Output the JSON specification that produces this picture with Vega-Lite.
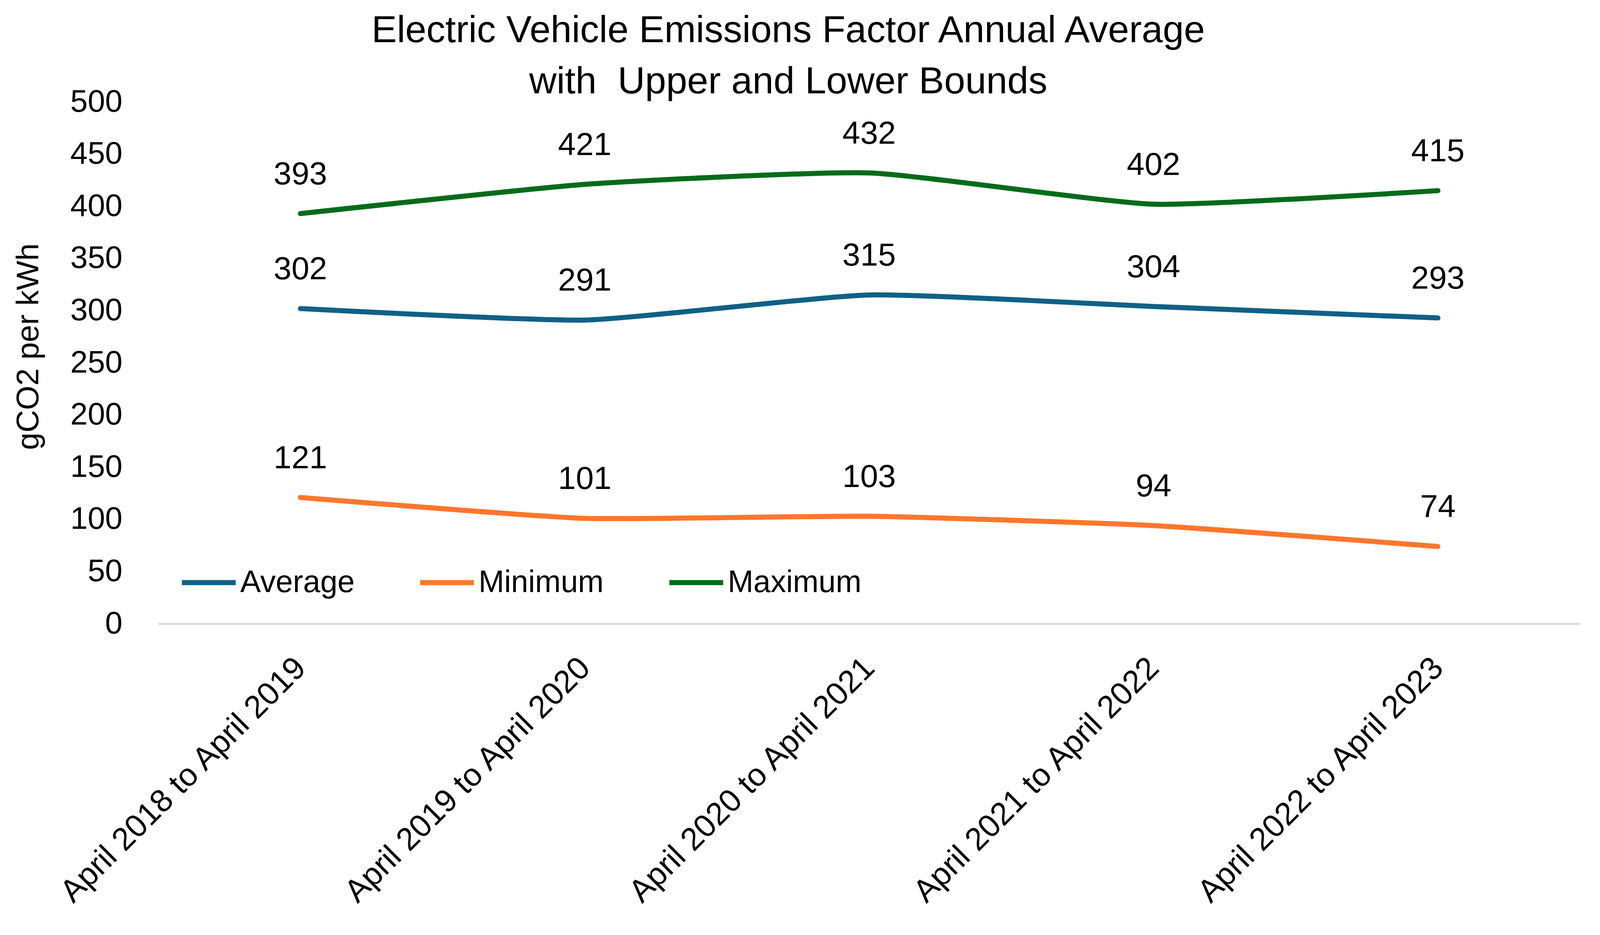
{
  "$schema": "https://vega.github.io/schema/vega-lite/v6.json",
  "description": "Electric Vehicle Emissions Factor Annual Average with Upper and Lower Bounds",
  "autosize": "none",
  "width": 3640,
  "height": 1336,
  "padding": {"left": 405, "top": 261, "right": 118, "bottom": 797},
  "background": "white",
  "title": {
    "text": ["Electric Vehicle Emissions Factor Annual Average", "with\u00a0 Upper and Lower Bounds"],
    "font": "Liberation Sans",
    "fontSize": 97,
    "fontWeight": "normal",
    "color": "#000000",
    "anchor": "middle",
    "dx": -207,
    "baseline": "bottom",
    "lineHeight": 131,
    "offset": -135
  },
  "config": {
    "view": {"stroke": null},
    "font": "Liberation Sans"
  },
  "data": {
    "values": [
      {"period": "April 2018 to April 2019", "series": "Average", "value": 302},
      {"period": "April 2019 to April 2020", "series": "Average", "value": 291},
      {"period": "April 2020 to April 2021", "series": "Average", "value": 315},
      {"period": "April 2021 to April 2022", "series": "Average", "value": 304},
      {"period": "April 2022 to April 2023", "series": "Average", "value": 293},
      {"period": "April 2018 to April 2019", "series": "Minimum", "value": 121},
      {"period": "April 2019 to April 2020", "series": "Minimum", "value": 101},
      {"period": "April 2020 to April 2021", "series": "Minimum", "value": 103},
      {"period": "April 2021 to April 2022", "series": "Minimum", "value": 94},
      {"period": "April 2022 to April 2023", "series": "Minimum", "value": 74},
      {"period": "April 2018 to April 2019", "series": "Maximum", "value": 393},
      {"period": "April 2019 to April 2020", "series": "Maximum", "value": 421},
      {"period": "April 2020 to April 2021", "series": "Maximum", "value": 432},
      {"period": "April 2021 to April 2022", "series": "Maximum", "value": 402},
      {"period": "April 2022 to April 2023", "series": "Maximum", "value": 415}
    ]
  },
  "encoding": {
    "x": {
      "field": "period",
      "type": "nominal",
      "sort": null,
      "scale": {"type": "point", "padding": 0.5},
      "axis": {
        "title": null,
        "labelAngle": -45,
        "labelAlign": "right",
        "labelBaseline": "middle",
        "labelFont": "Liberation Sans",
        "labelFontSize": 82,
        "labelColor": "#000000",
        "labelPadding": 100,
        "labelLimit": 2000,
        "ticks": false,
        "grid": false,
        "domainColor": "#d9d9d9",
        "domainWidth": 5
      }
    },
    "y": {
      "field": "value",
      "type": "quantitative",
      "scale": {"domain": [0, 500], "nice": false},
      "axis": {
        "title": "gCO2 per kWh",
        "titleFont": "Liberation Sans",
        "titleFontSize": 80,
        "titleFontWeight": "normal",
        "titleColor": "#000000",
        "titleX": -332,
        "titleY": 626,
        "titleBaseline": "middle",
        "titleAngle": -90,
        "values": [0, 50, 100, 150, 200, 250, 300, 350, 400, 450, 500],
        "labelFont": "Liberation Sans",
        "labelFontSize": 80,
        "labelColor": "#000000",
        "labelPadding": 92,
        "ticks": false,
        "domain": false,
        "grid": false
      }
    }
  },
  "layer": [
    {
      "mark": {"type": "line", "strokeWidth": 13, "strokeCap": "round", "strokeJoin": "round", "interpolate": "cardinal", "tension": 0.5},
      "encoding": {
        "color": {
          "field": "series",
          "type": "nominal",
          "scale": {
            "domain": ["Average", "Minimum", "Maximum"],
            "range": ["#0F6186", "#FF762D", "#036B1A"]
          },
          "legend": {
            "title": null,
            "orient": "none",
            "direction": "horizontal",
            "legendX": 54,
            "legendY": 1155,
            "symbolType": "stroke",
            "symbolSize": 19000,
            "symbolStrokeWidth": 13,
            "labelFont": "Liberation Sans",
            "labelFontSize": 79,
            "labelColor": "#000000",
            "labelOffset": 5,
            "columnPadding": 141,
            "labelLimit": 1000
          }
        }
      }
    },
    {
      "mark": {"type": "text", "dy": -100, "font": "Liberation Sans", "fontSize": 82, "color": "#000000", "baseline": "middle"},
      "encoding": {
        "text": {"field": "value", "type": "quantitative"},
        "detail": {"field": "series", "type": "nominal"}
      }
    }
  ]
}
